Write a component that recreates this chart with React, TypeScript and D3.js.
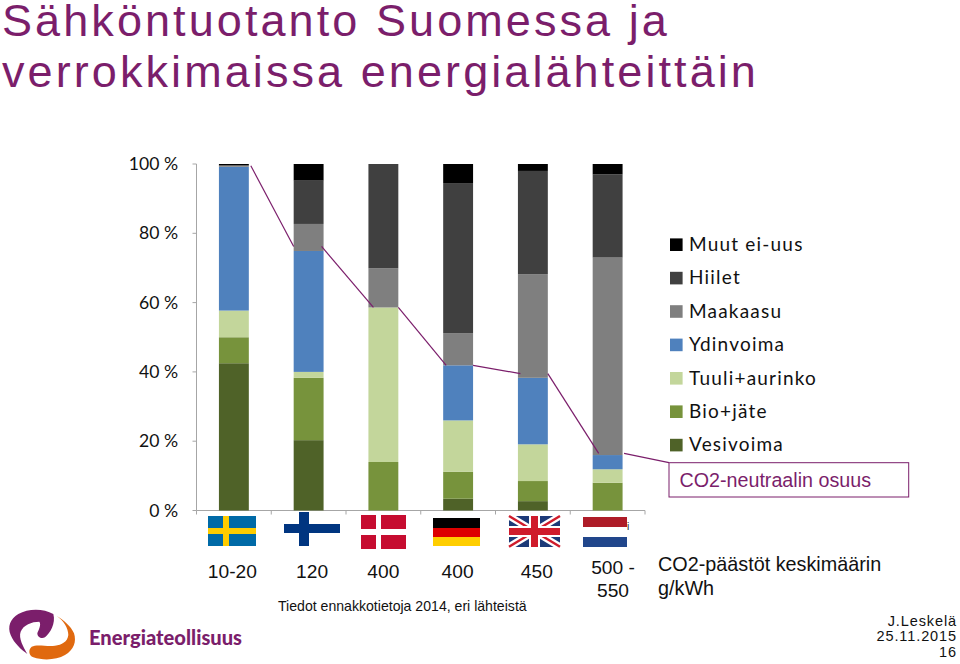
import React from "react";
import * as d3 from "d3";

const countries = ["Ruotsi", "Suomi", "Tanska", "Saksa", "Iso-Britannia", "Alankomaat"];
const seriesNames = ["Vesivoima", "Bio+jäte", "Tuuli+aurinko", "Ydinvoima", "Maakaasu", "Hiilet", "Muut ei-uus"];
const seriesColors = ["#4f6228", "#77933c", "#c3d69b", "#4f81bd", "#7f7f7f", "#404040", "#000000"];
const vesivoima = [42.5, 20.3, 0, 3.4, 2.7, 0];
const bioJate = [7.5, 18.0, 14.0, 7.8, 5.8, 8.0];
const tuuliAurinko = [7.7, 1.7, 44.6, 14.8, 10.6, 3.9];
const ydinvoima = [41.5, 34.9, 0, 15.9, 19.2, 4.1];
const maakaasu = [0.3, 7.8, 11.3, 9.3, 29.9, 57.0];
const hiilet = [0.1, 12.5, 30.1, 43.3, 29.8, 24.0];
const muut = [0.4, 4.8, 0, 5.5, 2.0, 3.0];
const allSeries = [vesivoima, bioJate, tuuliAurinko, ydinvoima, maakaasu, hiilet, muut];
const neutralShare = [99.5, 76.2, 58.6, 41.9, 39.5, 16.5];
const yTicks = [0, 20, 40, 60, 80, 100];
const emissions = ["10-20", "120", "400", "400", "450"];

const PURPLE = "#7b1e6b";
const arial = "'Liberation Sans', Arial, sans-serif";
const calibri = "Lato, 'Open Sans', sans-serif";

const y = d3.scaleLinear().domain([0, 100]).range([510.5, 164]);
const x = d3.scaleBand<string>().domain(countries).range([196.5, 645]).paddingInner(0.6).paddingOuter(0.3);
const tickStep = x.step();
const rows = countries.map((c, i) => {
  const r: Record<string, number | string> = { c };
  seriesNames.forEach((s, j) => (r[s] = allSeries[j][i]));
  return r;
});
const stacked = d3.stack<any>().keys(seriesNames)(rows as any);
const connector = d3.line<[number, number]>();

function Flags() {
  return (
    <g shapeRendering="crispEdges">
      <rect x={208.3} y={516} width={48} height={30} fill="#006aa7" />
      <rect x={223.3} y={516} width={6} height={30} fill="#fecc00" />
      <rect x={208.3} y={528.3} width={48} height={6} fill="#fecc00" />
      <rect x={284} y={524.3} width={55.7} height={9} fill="#003580" />
      <rect x={299.3} y={512} width={9.4} height={34} fill="#003580" />
      <rect x={361} y={514.7} width={45} height={34.3} fill="#c60c30" />
      <rect x={375.7} y={514.7} width={5} height={34.3} fill="#fff" />
      <rect x={361} y={529.3} width={45} height={5.4} fill="#fff" />
      <rect x={433.3} y={518.3} width={46.7} height={9.3} fill="#000" />
      <rect x={433.3} y={527.6} width={46.7} height={9.3} fill="#dd0000" />
      <rect x={433.3} y={536.9} width={46.7} height={9.4} fill="#ffce00" />
      <g>
        <rect x={509} y={516} width={51} height={30.7} fill="#1c3a78" />
        <path d="M509 516 L560 546.7 M560 516 L509 546.7" stroke="#fff" strokeWidth={7} shapeRendering="auto" />
        <path d="M509 516 L560 546.7 M560 516 L509 546.7" stroke="#cf1b2b" strokeWidth={2.5} shapeRendering="auto" />
        <rect x={529} y={516} width={11} height={30.7} fill="#fff" />
        <rect x={509} y={526} width={51} height={10.7} fill="#fff" />
        <rect x={531} y={516} width={7} height={30.7} fill="#cf1b2b" />
        <rect x={509} y={528} width={51} height={6.7} fill="#cf1b2b" />
      </g>
      <rect x={582.7} y={516.7} width={44.3} height={10.6} fill="#ae1c28" />
      <rect x={582.7} y={537.3} width={44.3} height={10} fill="#21468b" />
      <text x={627} y={530} fontFamily={arial} fontSize={10} fill="#222">i</text>
    </g>
  );
}

function Logo() {
  return (
    <g>
      <g transform="translate(0,600) scale(0.3333)">
        <path d="M160 42 C130 25 85 25 55 42 C30 58 22 80 32 105 C42 130 65 150 82 162 C70 140 55 115 62 95 C70 75 95 65 118 65 C125 75 115 90 112 100 C112 112 125 118 135 112 C150 100 168 70 160 42 Z" fill={PURPLE} />
        <path d="M170 48 C190 60 205 85 205 105 C203 125 185 135 165 137 C140 140 110 132 95 140 C85 148 85 165 100 172 C130 182 170 180 195 165 C222 150 230 125 222 100 C213 78 190 60 170 48 Z" fill="#e0690f" />
      </g>
      <text x={89} y={645} fontFamily={calibri} fontWeight={900} fontSize={21.5} fill={PURPLE} textLength={153} lengthAdjust="spacingAndGlyphs">Energiateollisuus</text>
    </g>
  );
}

export default function App() {
  const segs: [number, number][][] = [];
  const startInset = [2, -2, 0, 0, 0];
  const endInset = [0, 5, 3, 2.5, 6];
  for (let i = 0; i < countries.length - 1; i++) {
    const x0 = x(countries[i])! + x.bandwidth() + startInset[i];
    const x1 = x(countries[i + 1])! + endInset[i];
    segs.push([[x0, y(neutralShare[i])], [x1, y(neutralShare[i + 1])]]);
  }
  const last = countries.length - 1;
  const lx = x(countries[last])! + x.bandwidth() + 1.5;
  const labelShift = [-1.5, 3.5, 0, -0.5, 4];
  return (
    <svg width={960} height={664} viewBox="0 0 960 664" style={{ position: "absolute", left: 0, top: 0, background: "#fff" }}>
      <text x={2} y={36} fontFamily={arial} fontSize={45} letterSpacing={3.08} fill={PURPLE}>Sähköntuotanto Suomessa ja</text>
      <text x={2} y={87} fontFamily={arial} fontSize={45} letterSpacing={3.08} fill={PURPLE}>verrokkimaissa energialähteittäin</text>

      {yTicks.map((t) => (
        <g key={t}>
          <line x1={192.5} x2={196.5} y1={y(t)} y2={y(t)} stroke="#a6a6a6" />
          <text x={178} y={y(t) + 6} textAnchor="end" fontFamily={calibri} fontSize={17.6} fill="#111">{t} %</text>
        </g>
      ))}
      <line x1={196.5} x2={196.5} y1={164} y2={510.5} stroke="#a6a6a6" />
      <line x1={196.5} x2={645} y1={510.5} y2={510.5} stroke="#a6a6a6" />
      {d3.range(countries.length + 1).map((i) => (
        <line key={i} x1={196.5 + i * tickStep} x2={196.5 + i * tickStep} y1={510.5} y2={514.5} stroke="#a6a6a6" />
      ))}

      {stacked.map((s, j) => (
        <g key={s.key} fill={seriesColors[j]}>
          {s.map((d, i) => (
            <rect key={i} x={x(countries[i])} width={x.bandwidth()} y={y(d[1])} height={Math.max(0, y(d[0]) - y(d[1]))} />
          ))}
        </g>
      ))}

      {segs.map((p, i) => (
        <path key={i} d={connector(p)!} fill="none" stroke={PURPLE} strokeWidth={1.2} />
      ))}
      <path d={connector([[lx, y(neutralShare[last])], [669, 462.7]])!} fill="none" stroke={PURPLE} strokeWidth={1.2} />

      {seriesNames.slice().reverse().map((n, i) => (
        <g key={n}>
          <rect x={670} y={238.4 + i * 33.4} width={12.6} height={12.6} fill={seriesColors[seriesNames.length - 1 - i]} />
          <text x={689} y={251 + i * 33.4} fontFamily={calibri} fontSize={19} letterSpacing={1.2} fill="#111">{n}</text>
        </g>
      ))}

      <rect x={669} y={462.7} width={239.7} height={34.3} fill="#fff" stroke={PURPLE} strokeWidth={1} />
      <text x={679.5} y={487} fontFamily={arial} fontSize={19.7} fill={PURPLE}>CO2-neutraalin osuus</text>

      <Flags />

      {emissions.map((e, i) => (
        <text key={i} x={x(countries[i])! + x.bandwidth() / 2 + labelShift[i]} y={578} textAnchor="middle" fontFamily={arial} fontSize={19.2} fill="#111">{e}</text>
      ))}
      <text x={613} y={574} textAnchor="middle" fontFamily={arial} fontSize={19.2} fill="#111">500 -</text>
      <text x={613} y={597} textAnchor="middle" fontFamily={arial} fontSize={19.2} fill="#111">550</text>
      <text x={658} y={571} fontFamily={arial} fontSize={19.8} fill="#111">CO2-päästöt keskimäärin</text>
      <text x={658} y={595} fontFamily={arial} fontSize={19.8} fill="#111">g/kWh</text>
      <text x={278} y={611} fontFamily={arial} fontSize={14.1} fill="#111">Tiedot ennakkotietoja 2014, eri lähteistä</text>

      <Logo />

      <text x={957} y={626} textAnchor="end" fontFamily={arial} fontSize={14.5} letterSpacing={0.9} fill="#111">J.Leskelä</text>
      <text x={957} y={641} textAnchor="end" fontFamily={arial} fontSize={14.5} letterSpacing={0.9} fill="#111">25.11.2015</text>
      <text x={957} y={657} textAnchor="end" fontFamily={arial} fontSize={14.5} letterSpacing={0.9} fill="#111">16</text>
    </svg>
  );
}
